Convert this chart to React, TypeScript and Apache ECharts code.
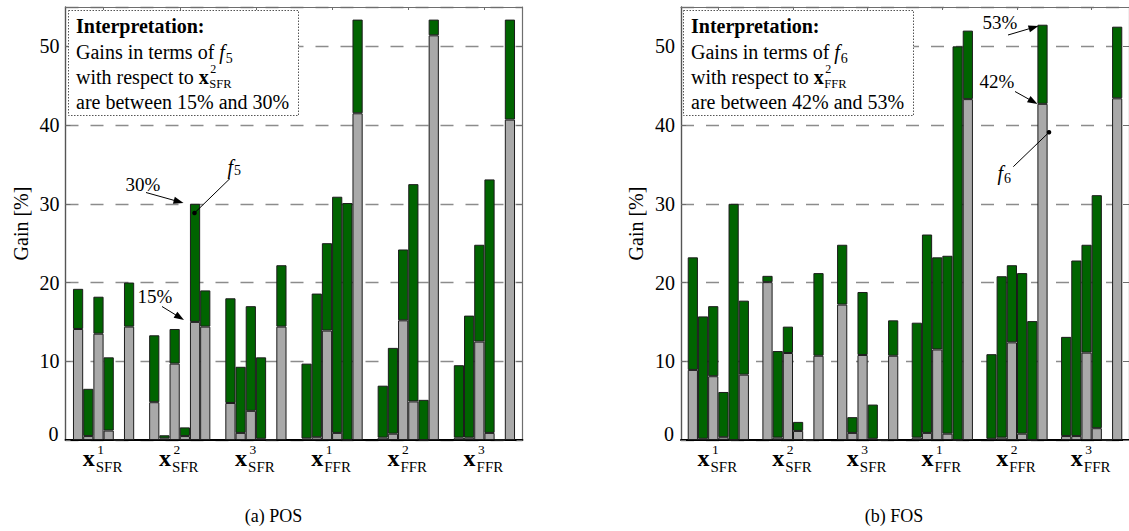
import React, { useEffect, useRef } from "react";
import * as echarts from "echarts";

// ---------- data ----------
const categories = ["x1SFR", "x2SFR", "x3SFR", "x1FFR", "x2FFR", "x3FFR"];
const categorySup = ["1", "2", "3", "1", "2", "3"];
const categorySub = ["SFR", "SFR", "SFR", "FFR", "FFR", "FFR"];
const yTickValues = [0, 10, 20, 30, 40, 50];

// POS panel: for each group, 6 bars; lower (grey) and upper (green top) gain values
const posLower = [
  [14.1, 0.5, 13.5, 1.2, 0, 14.4],
  [4.8, 0.2, 9.7, 0.5, 15.0, 14.4],
  [4.7, 0.9, 3.7, 0.15, 0, 14.4],
  [0.2, 0.35, 13.9, 0.9, 0, 41.5],
  [0.3, 0.8, 15.2, 4.9, 0, 51.4],
  [0.3, 0.3, 12.5, 0.9, 0, 40.7],
];
const posUpper = [
  [19.2, 6.5, 18.2, 10.5, 0, 20.0],
  [13.3, 0.6, 14.1, 1.6, 30.0, 19.0],
  [18.0, 9.3, 17.0, 10.5, 0, 22.2],
  [9.7, 18.6, 25.0, 30.9, 30.1, 53.4],
  [6.9, 11.7, 24.2, 32.5, 5.1, 53.4],
  [9.5, 15.8, 24.8, 33.1, 0, 53.4],
];
// FOS panel
const fosLower = [
  [8.9, 0.15, 8.1, 0.35, 0, 8.3],
  [20.05, 0.3, 11.05, 1.15, 0, 10.7],
  [17.2, 0.9, 10.8, 0.15, 0, 10.7],
  [0.3, 0.9, 11.5, 0.8, 0, 43.3],
  [0.15, 0.3, 12.4, 0.8, 0, 42.7],
  [0.5, 0.5, 11.1, 1.5, 0, 43.4],
];
const fosUpper = [
  [23.2, 15.7, 17.0, 6.1, 30.0, 17.7],
  [20.85, 11.3, 14.4, 2.3, 0, 21.2],
  [24.8, 2.9, 18.8, 4.5, 0, 15.2],
  [14.9, 26.1, 23.2, 23.4, 50.0, 52.0],
  [10.9, 20.8, 22.2, 21.2, 15.1, 52.75],
  [13.1, 22.8, 24.8, 31.1, 0, 52.5],
];

const boxObjective = ["5", "6"];
const boxReferenceSup = ["2", "2"];
const boxReferenceSub = ["SFR", "FFR"];
const boxRanges = ["are between 15% and 30%", "are between 42% and 53%"];
const captions = ["(a) POS", "(b) FOS"];
const axisName = "Gain [%]";

// ---------- styles ----------
const FAMILY = "'Liberation Serif', 'Times New Roman', serif";
const GREEN = "#006400";
const GRAY = "#a9a9a9";
const EDGE = "#1c1c1c";
const GRID_COLOR = "#8c8c8c";
const FRAME = "#6e6e6e";
const BAR_W = 10.2;

const panels = [
  { lower: posLower, upper: posUpper, left: 65.5, width: 457 },
  { lower: fosLower, upper: fosUpper, left: 681, width: 458 },
];

function fontStr(size: number, bold = false, italic = false) {
  return `${italic ? "italic " : ""}${bold ? "bold " : ""}${size}px ${FAMILY}`;
}

function buildOption() {
  const grid: any[] = [];
  const xAxis: any[] = [];
  const yAxis: any[] = [];
  const series: any[] = [];
  panels.forEach((p, k) => {
    grid.push({ left: p.left, top: 7, width: p.width, height: 433 });
    xAxis.push({
      type: "category",
      gridIndex: k,
      data: categories,
      position: "bottom",
      axisLine: { show: true, onZero: false, lineStyle: { color: "#000", width: 1.8 } },
      axisTick: { show: false },
      axisLabel: { show: false },
      splitLine: { show: false },
    });
    xAxis.push({
      type: "category",
      gridIndex: k,
      data: categories,
      position: "top",
      axisLine: { show: true, onZero: false, lineStyle: { color: FRAME, width: 1.2 } },
      axisTick: { show: true, inside: true, alignWithLabel: true, length: 3, lineStyle: { color: FRAME } },
      axisLabel: { show: false },
      splitLine: { show: false },
    });
    yAxis.push({
      type: "value",
      gridIndex: k,
      position: "left",
      min: 0,
      max: 55,
      interval: 10,
      name: axisName,
      nameLocation: "middle",
      nameGap: 35,
      nameTextStyle: { fontFamily: FAMILY, fontSize: 20, color: "#000" },
      axisLine: { show: true, onZero: false, lineStyle: { color: "#555", width: 1.4 } },
      axisTick: { show: true, inside: true, length: 5, lineStyle: { color: FRAME } },
      axisLabel: {
        fontFamily: FAMILY,
        fontSize: 20,
        color: "#000",
        margin: 6,
        showMaxLabel: false,
        formatter: (v: number) => (v === 0 ? "{z|0}" : yTickValues.includes(v) ? String(v) : ""),
        rich: {
          z: { fontFamily: FAMILY, fontSize: 20, color: "#000", padding: [0, 1, 13, 0] },
        },
      },
      splitLine: { show: true, lineStyle: { color: GRID_COLOR, width: 1.3, type: [13, 12] } },
    });
    yAxis.push({
      type: "value",
      gridIndex: k,
      position: "right",
      min: 0,
      max: 55,
      interval: 10,
      axisLine: { show: true, onZero: false, lineStyle: { color: FRAME, width: 1.2 } },
      axisTick: { show: true, inside: true, length: 6, lineStyle: { color: FRAME } },
      axisLabel: { show: false },
      splitLine: { show: false },
    });
    for (let j = 0; j < 6; j++) {
      const stack = `p${k}b${j}`;
      series.push({
        type: "bar",
        xAxisIndex: 2 * k,
        yAxisIndex: 2 * k,
        stack,
        barWidth: BAR_W,
        barGap: "0%",
        silent: true,
        data: p.lower.map((g) => g[j]),
        itemStyle: { color: GRAY, borderColor: EDGE, borderWidth: 1 },
      });
      series.push({
        type: "bar",
        xAxisIndex: 2 * k,
        yAxisIndex: 2 * k,
        stack,
        barWidth: BAR_W,
        barGap: "0%",
        silent: true,
        data: p.upper.map((g, i) => +(g[j] - p.lower[i][j]).toFixed(3)),
        itemStyle: { color: GREEN, borderColor: EDGE, borderWidth: 1 },
      });
    }
  });
  return {
    animation: false,
    backgroundColor: "#fff",
    textStyle: { fontFamily: FAMILY },
    grid,
    xAxis,
    yAxis,
    series,
  };
}

function buildGraphics(chart: any) {
  const ctx = document.createElement("canvas").getContext("2d") as CanvasRenderingContext2D;
  const mw = (text: string, font: string) => {
    ctx.font = font;
    return ctx.measureText(text).width;
  };
  const els: any[] = [];
  const txt = (text: string, x: number, y: number, font: string, align = "left") =>
    els.push({
      type: "text",
      x,
      y,
      z: 100,
      style: { text, font, fill: "#000", align, verticalAlign: "middle" },
    });
  const line = (x1: number, y1: number, x2: number, y2: number) =>
    els.push({ type: "line", z: 100, shape: { x1, y1, x2, y2 }, style: { stroke: "#000", lineWidth: 1 } });
  const arrow = (x1: number, y1: number, x2: number, y2: number) => {
    const dx = x2 - x1, dy = y2 - y1;
    const L = Math.hypot(dx, dy);
    const ux = dx / L, uy = dy / L;
    const hl = 10, hw = 3.6;
    const bx = x2 - ux * hl, by = y2 - uy * hl;
    line(x1, y1, bx + ux * 2, by + uy * 2);
    els.push({
      type: "polygon",
      z: 100,
      shape: { points: [[x2, y2], [bx - uy * hw, by + ux * hw], [bx + uy * hw, by - ux * hw]] },
      style: { fill: "#000" },
    });
  };
  const dot = (x: number, y: number) =>
    els.push({ type: "circle", z: 100, shape: { cx: x, cy: y, r: 2.3 }, style: { fill: "#000" } });

  panels.forEach((p, k) => {
    // category labels x^i_{SFR}
    categories.forEach((c, i) => {
      const cx = chart.convertToPixel({ xAxisIndex: 2 * k }, i) as number;
      const fx = fontStr(24, true);
      const wx = mw("x", fx);
      const ws = mw(categorySub[i], fontStr(15));
      const start = cx - (wx + 1 + ws) / 2 - 1;
      txt("x", start, 458, fx);
      txt(categorySup[i], start + wx + 2.5, 449.5, fontStr(13.5));
      txt(categorySub[i], start + wx + 1, 466.5, fontStr(15));
    });

    // interpretation box
    const ox = k === 0 ? 0 : 615;
    els.push({
      type: "rect",
      z: 99,
      shape: { x: 68.5 + ox, y: 10.5, width: 230, height: 105 },
      style: { fill: "#fff", stroke: "#555", lineWidth: 1, lineDash: [1.5, 1.5] },
    });
    const tx = 76 + ox;
    const f20 = fontStr(20);
    txt("Interpretation:", tx, 25.5, fontStr(20, true));
    const l2 = "Gains in terms of ";
    const w2 = mw(l2, f20);
    txt(l2, tx, 52.2, f20);
    const fi = fontStr(20, false, true);
    txt("f", tx + w2, 52.2, fi);
    txt(boxObjective[k], tx + w2 + mw("f", fi) + 1, 58.3, fontStr(14));
    const l3 = "with respect to ";
    const w3 = mw(l3, f20);
    txt(l3, tx, 76.5, f20);
    const fb = fontStr(20, true);
    txt("x", tx + w3, 76.5, fb);
    const wbx = mw("x", fb);
    txt(boxReferenceSup[k], tx + w3 + wbx + 1.5, 69.3, fontStr(12));
    txt(boxReferenceSub[k], tx + w3 + wbx + 0.5, 83.6, fontStr(12.5));
    txt(boxRanges[k], tx, 101.6, f20);
  });

  // annotations, panel (a)
  const f19 = fontStr(19);
  txt("30%", 143, 184.5, f19, "center");
  arrow(146, 192.5, 183.5, 203);
  txt("15%", 155, 296, f19, "center");
  arrow(162, 306.5, 184, 320);
  const fi = fontStr(20, false, true);
  txt("f", 227.5, 166.7, fi);
  txt("5", 227.5 + mw("f", fi) + 1, 170.8, fontStr(14));
  line(230, 178.5, 194.5, 213);
  dot(194.5, 213);

  // annotations, panel (b)
  txt("53%", 1000, 22.5, f19, "center");
  arrow(1008, 35, 1038.5, 26);
  txt("42%", 997, 81.5, f19, "center");
  arrow(1015, 91.5, 1037.5, 104);
  txt("f", 997.5, 173, fi);
  txt("6", 997.5 + mw("f", fi) + 1, 178, fontStr(14));
  line(1013.3, 166.7, 1049, 132.3);
  dot(1049, 132.3);

  // captions
  txt(captions[0], 273.5, 515.5, fontStr(18), "center");
  txt(captions[1], 894, 515.5, fontStr(18), "center");
  return els;
}

export default function App() {
  const ref = useRef<HTMLDivElement>(null);
  useEffect(() => {
    const el = ref.current as HTMLDivElement;
    const chart = echarts.init(el, null, { renderer: "svg" });
    chart.setOption(buildOption() as any);
    chart.setOption({ graphic: buildGraphics(chart) } as any);
    return () => chart.dispose();
  }, []);
  return (
    <div
      ref={ref}
      style={{ position: "absolute", left: 0, top: 0, width: 1129, height: 531, background: "#fff" }}
    />
  );
}
